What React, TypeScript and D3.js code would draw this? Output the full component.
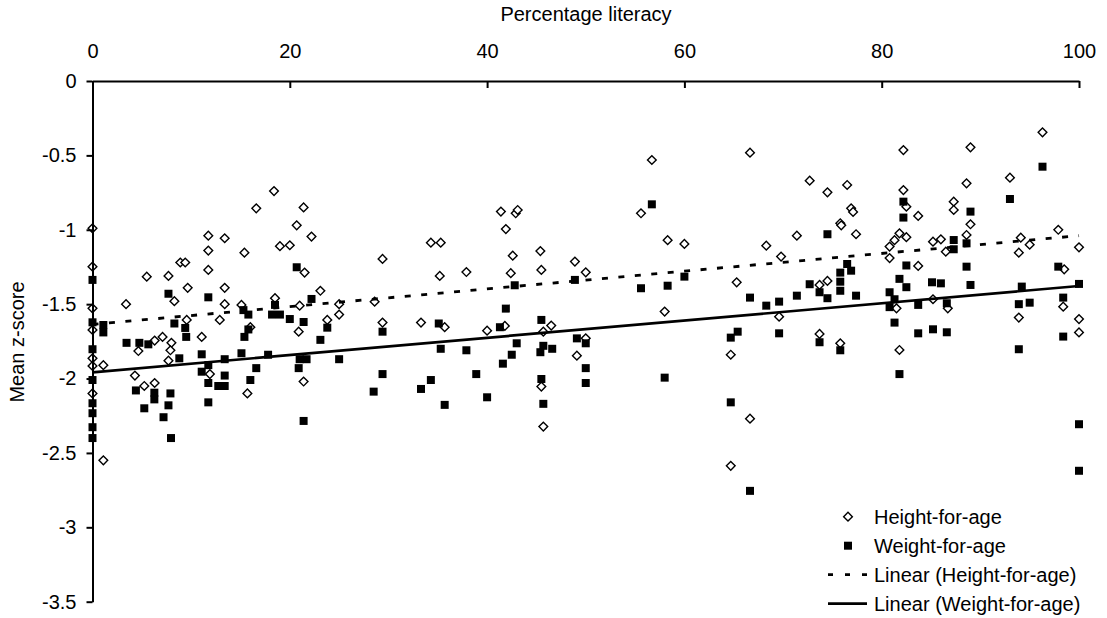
import React, { useEffect, useRef } from "react";
import * as d3 from "d3";

// ---- data ----
const xTicks = [0, 20, 40, 60, 80, 100];
const yTicks = [0, -0.5, -1, -1.5, -2, -2.5, -3, -3.5];

// [percentage literacy, mean z-score]
const heightForAge: [number, number][] = [
  [0, -0.99], [0, -1.248], [0, -1.528], [0, -1.673], [0, -1.864], [0, -1.915], [0, -2.1], [1.1, -1.91], [1.1, -2.55],
  [3.4, -1.5], [5.5, -1.315], [4.3, -1.98], [5.25, -2.05], [6.3, -2.03], [4.65, -1.815], [6.3, -1.745], [7.1, -1.72],
  [7.7, -1.31], [8.0, -1.76], [7.9, -1.81], [7.7, -1.88], [8.3, -1.48], [8.9, -1.22], [9.4, -1.22], [9.65, -1.39],
  [9.55, -1.606], [11.07, -1.72], [11.74, -1.04], [11.74, -1.14], [11.74, -1.27], [11.9, -1.97], [13.4, -1.057],
  [13.4, -1.39], [13.4, -1.5], [12.9, -1.606], [15.4, -1.154], [15.1, -1.505], [16.0, -1.655], [15.7, -2.1],
  [16.6, -0.856], [18.4, -0.74], [19.0, -1.11], [18.5, -1.46],
  [20.0, -1.104], [21.4, -0.85], [20.7, -0.97], [22.2, -1.046], [21.5, -1.288], [23.1, -1.41], [21.0, -1.51],
  [20.9, -1.685], [21.4, -2.02], [25.0, -1.5], [25.0, -1.57], [23.8, -1.606], [29.4, -1.196], [28.6, -1.483],
  [29.4, -1.624], [34.3, -1.087], [35.3, -1.087], [35.2, -1.31], [33.3, -1.624], [35.7, -1.655], [37.9, -1.284],
  [40.0, -1.678], [41.4, -0.878], [42.9, -0.889], [43.1, -0.867], [41.9, -0.995], [42.6, -1.174], [42.4, -1.292],
  [41.8, -1.646],
  [56.7, -0.531], [55.6, -0.889], [58.3, -1.07], [60.0, -1.095], [66.65, -0.482], [68.3, -1.107], [45.4, -1.143],
  [45.5, -1.27], [48.9, -1.214], [50.0, -1.286], [46.5, -1.644], [45.7, -1.685], [49.1, -1.846], [50.0, -1.73],
  [45.5, -2.054], [45.7, -2.323], [58.0, -1.55], [65.3, -1.353], [64.7, -1.84], [66.65, -2.27], [64.7, -2.587],
  [69.8, -1.18], [69.6, -1.584], [71.4, -1.04], [72.7, -0.67], [74.5, -0.748], [76.5, -0.699], [76.9, -0.856],
  [77.1, -0.88], [75.8, -0.956], [75.9, -0.97], [77.4, -1.03], [73.7, -1.371], [74.5, -1.344], [73.7, -1.7],
  [75.8, -1.763], [82.2, -0.464], [82.2, -0.733], [82.5, -0.845], [83.7, -0.907], [81.8, -1.024], [82.5, -1.05],
  [81.3, -1.07], [80.8, -1.113], [80.8, -1.19], [83.7, -1.243], [81.5, -1.528], [81.8, -1.808], [85.2, -1.08],
  [86.0, -1.064], [86.5, -1.147], [85.2, -1.467], [86.7, -1.528], [87.3, -0.811], [87.3, -0.867], [88.6, -0.688],
  [89.0, -0.446], [89.0, -0.963], [88.6, -1.035], [93.0, -0.65], [96.3, -0.345], [94.1, -1.053], [95.0, -1.1],
  [93.9, -1.154], [97.9, -1.0], [98.5, -1.266], [100, -1.118], [93.9, -1.59], [98.4, -1.517], [100, -1.6], [100, -1.69],
];

const weightForAge: [number, number][] = [
  [0, -1.337], [0, -1.622], [0, -1.803], [0, -2.01], [0, -2.166], [0, -2.233], [0, -2.327], [0, -2.4], [1.1, -1.64],
  [1.1, -1.69],
  [3.45, -1.76], [4.75, -1.76], [5.66, -1.77], [4.4, -2.08], [5.25, -2.2], [6.27, -2.095], [6.27, -2.14], [7.2, -2.26],
  [7.9, -2.1], [7.7, -2.18], [7.96, -2.4], [7.7, -1.43], [8.3, -1.63], [9.4, -1.66], [9.5, -1.72], [8.8, -1.864],
  [11.07, -1.837], [11.07, -1.954], [11.74, -1.91], [11.74, -2.03], [11.74, -2.16], [11.74, -1.454], [13.4, -1.87],
  [13.4, -1.98], [13.4, -2.05], [12.75, -2.05], [15.1, -1.83], [16.0, -2.01], [16.6, -1.93], [15.3, -1.54],
  [15.8, -1.57], [15.8, -1.67], [15.4, -1.72], [17.8, -1.84], [18.5, -1.505], [18.2, -1.57], [19.0, -1.57],
  [20.0, -1.6], [20.7, -1.252], [21.4, -1.62], [22.2, -1.465], [23.1, -1.74], [23.8, -1.658], [21.0, -1.87],
  [21.7, -1.87], [20.9, -1.93], [21.4, -2.285], [25.0, -1.87], [29.4, -1.685], [29.4, -1.97], [28.5, -2.088],
  [33.3, -2.07], [34.3, -2.01], [35.7, -2.177], [35.1, -1.63], [35.3, -1.8], [37.9, -1.81], [38.9, -1.97],
  [40.0, -2.126], [41.3, -1.655], [41.6, -1.9], [42.5, -1.84], [43.0, -1.763], [41.9, -1.53], [42.8, -1.373],
  [56.7, -0.829], [55.6, -1.393], [58.3, -1.376], [60.0, -1.315], [48.9, -1.337], [45.5, -1.606], [45.7, -1.78],
  [45.4, -1.823], [46.6, -1.8], [49.1, -1.73], [50.0, -1.763], [50.0, -1.93], [50.0, -2.03], [45.5, -2.003],
  [45.7, -2.17], [58.0, -1.994], [66.65, -1.456], [68.3, -1.51], [65.4, -1.685], [64.7, -1.725], [64.7, -2.16],
  [66.65, -2.755],
  [69.6, -1.483], [69.6, -1.696], [71.4, -1.443], [72.7, -1.366], [73.7, -1.42], [74.5, -1.46], [73.7, -1.756],
  [74.5, -1.03], [75.8, -1.288], [75.8, -1.349], [75.8, -1.41], [76.5, -1.23], [76.9, -1.275], [77.4, -1.443],
  [75.8, -1.81], [80.8, -1.42], [80.8, -1.52], [81.3, -1.467], [81.3, -1.624], [81.8, -1.33], [81.8, -1.97],
  [82.2, -0.811], [82.2, -0.918], [82.5, -1.24], [82.5, -1.386], [83.7, -1.505], [83.7, -1.696], [85.1, -1.353],
  [86.0, -1.36], [85.2, -1.669], [86.6, -1.494], [86.6, -1.689], [87.3, -1.069], [87.3, -1.131], [88.6, -1.091],
  [89.0, -0.878], [88.6, -1.248], [89.0, -1.371], [93.0, -0.793], [96.3, -0.576], [94.2, -1.382], [93.9, -1.5],
  [95.0, -1.49], [93.9, -1.803], [97.9, -1.248], [98.4, -1.456], [98.4, -1.718], [100, -1.364], [100, -2.307],
  [100, -2.62],
];

// linear trendlines: [intercept, slope]
const heightTrend = [-1.636, 0.00596];
const weightTrend = [-1.958, 0.0058];

const legendLabels = ["Height-for-age", "Weight-for-age", "Linear (Height-for-age)", "Linear (Weight-for-age)"];

const W = 1107;
const H = 618;
const FONT = "'Liberation Sans', Arial, sans-serif";
const FS = 20;

export default function App() {
  const xAxisRef = useRef<SVGGElement>(null);
  const yAxisRef = useRef<SVGGElement>(null);

  const x = d3.scaleLinear().domain([0, 100]).range([92.5, 1079]);
  const y = d3.scaleLinear().domain([0, -3.5]).range([81, 601.7]);

  useEffect(() => {
    const gx = d3.select(xAxisRef.current);
    gx.call(
      d3.axisTop(x).tickValues(xTicks).tickSizeInner(-7).tickSizeOuter(0).tickPadding(23).tickFormat((d) => String(d))
    );
    gx.selectAll("path,line").attr("stroke", "#000").attr("stroke-width", 2);
    gx.selectAll("text").attr("font-size", FS).attr("font-family", FONT).attr("fill", "#000");
    gx.attr("font-size", null).attr("font-family", null);

    const gy = d3.select(yAxisRef.current);
    gy.call(
      d3.axisLeft(y).tickValues(yTicks).tickSizeInner(6).tickSizeOuter(0).tickPadding(10).tickFormat((d) => String(d))
    );
    gy.selectAll("path,line").attr("stroke", "#000").attr("stroke-width", 2);
    gy.selectAll("text").attr("font-size", FS).attr("font-family", FONT).attr("fill", "#000");
    gy.attr("font-size", null).attr("font-family", null);
  }, []);

  const diamond = d3.symbol().type(d3.symbolSquare).size(38)()!;
  const square = d3.symbol().type(d3.symbolSquare).size(64)()!;

  const trendLine = (c: number[]) =>
    d3
      .line<number>()
      .x((d) => x(d))
      .y((d) => y(c[0] + c[1] * d))([0, 100])!;

  const legendX = 848;
  const legendY0 = 516.7;
  const legendDy = 29;

  return (
    <svg width={W} height={H} style={{ position: "absolute", left: 0, top: 0, background: "#fff" }}>
      <rect width={W} height={H} fill="#fff" />
      <text x={586} y={21} textAnchor="middle" fontFamily={FONT} fontSize={FS}>
        Percentage literacy
      </text>
      <text
        transform={`translate(24,${342}) rotate(-90)`}
        textAnchor="middle"
        fontFamily={FONT}
        fontSize={FS}
      >
        Mean z-score
      </text>

      <g>
        {heightForAge.map((d, i) => (
          <path
            key={"h" + i}
            d={diamond}
            transform={`translate(${x(d[0])},${y(d[1])}) rotate(45)`}
            fill="#fff"
            stroke="#000"
            strokeWidth={1.4}
          />
        ))}
      </g>
      <g>
        {weightForAge.map((d, i) => (
          <path key={"w" + i} d={square} transform={`translate(${x(d[0])},${y(d[1])})`} fill="#000" />
        ))}
      </g>

      <path d={trendLine(heightTrend)} fill="none" stroke="#000" strokeWidth={2.8} strokeDasharray="6,10.5" />
      <path d={trendLine(weightTrend)} fill="none" stroke="#000" strokeWidth={2.7} />

      <g ref={xAxisRef} transform={`translate(0,${81})`} />
      <g ref={yAxisRef} transform={`translate(${92.5},0)`} />

      <g fontFamily={FONT} fontSize={FS}>
        <path
          d={diamond}
          transform={`translate(${legendX},${legendY0}) rotate(45)`}
          fill="#fff"
          stroke="#000"
          strokeWidth={1.4}
        />
        <path d={square} transform={`translate(${legendX},${legendY0 + legendDy})`} fill="#000" />
        <line
          x1={828}
          x2={867}
          y1={legendY0 + 2 * legendDy}
          y2={legendY0 + 2 * legendDy}
          stroke="#000"
          strokeWidth={2.8}
          strokeDasharray="5,12"
        />
        <line
          x1={828}
          x2={867}
          y1={legendY0 + 3 * legendDy}
          y2={legendY0 + 3 * legendDy}
          stroke="#000"
          strokeWidth={2.7}
        />
        {legendLabels.map((t, i) => (
          <text key={t} x={874} y={legendY0 + i * legendDy} dy="0.35em">
            {t}
          </text>
        ))}
      </g>
    </svg>
  );
}
